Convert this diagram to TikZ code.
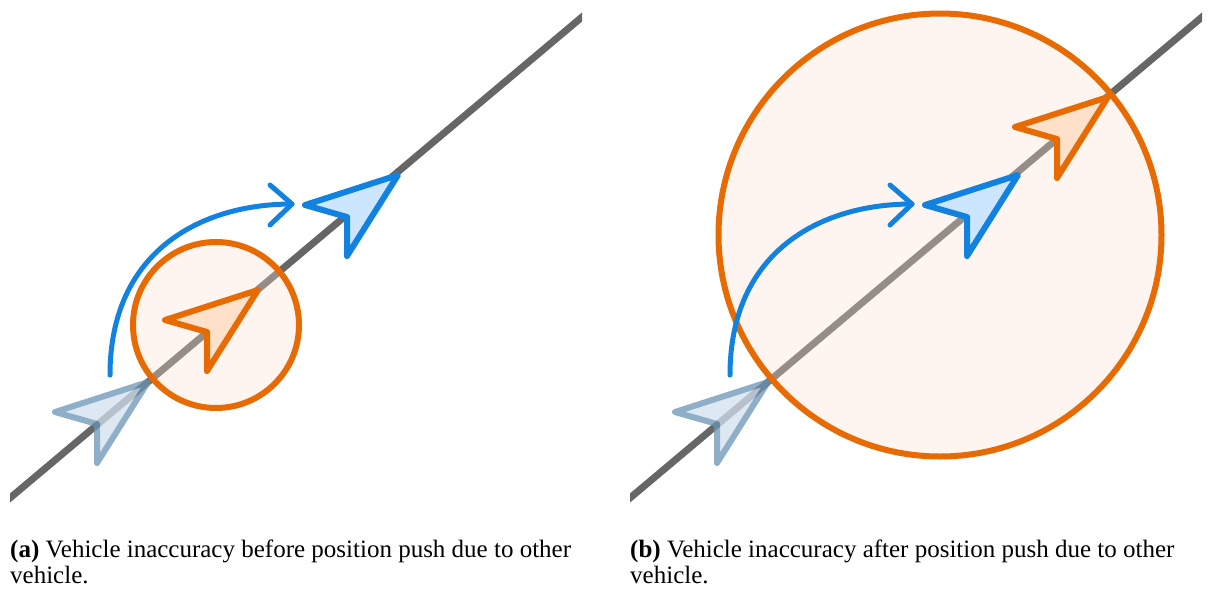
\documentclass[tikz,border=0pt]{standalone}
\usepackage{fontspec}
\setmainfont{Liberation Serif}
\definecolor{roadgray}{RGB}{102,102,102}
\definecolor{accorange}{RGB}{232,106,2}
\definecolor{accorangefill}{RGB}{255,225,201}
\definecolor{zonefill}{RGB}{252,221,208}
\definecolor{carblue}{RGB}{18,130,224}
\definecolor{carbluefill}{RGB}{204,230,255}
\definecolor{ghoststroke}{RGB}{106,147,182}
\definecolor{ghostfill}{RGB}{211,224,239}
\begin{document}
\begin{tikzpicture}[x=1pt,y=-1pt,
  road/.style={line width=7pt, draw=roadgray},
  zone/.style={line width=6pt, draw=accorange, fill=zonefill, fill opacity=0.32},
  navshape/.pic={\path[pic actions] (0,0) -- (-93,30) -- (-51,42) -- (-51,81) -- cycle;},
  navorange/.style={line width=6pt, line join=round, draw=accorange, fill=accorangefill},
  navblue/.style={line width=6pt, line join=round, draw=carblue, fill=carbluefill},
  navghost/.style={line width=6pt, line join=round, draw=ghoststroke, fill=ghostfill},
  push/.style={line width=5pt, draw=carblue, line cap=round, line join=round},
  caption/.style={anchor=north west, inner sep=0pt, align=left,
    font=\fontsize{25}{25.5}\selectfont}
]
\useasboundingbox (0,0) rectangle (1216,590);

% ---------- (a) before the push ----------
\begin{scope}
  \clip (10,0) rectangle (582,590);
  \draw[road] (0,506.4) -- (600,1.9);
\end{scope}
\coordinate (ghostA) at (148,382);
\coordinate (estA) at (258,290);
\coordinate (carA) at (398,175);
\coordinate (zoneA) at (216,325);
\begin{scope}[transparency group, opacity=0.75]
  \pic[navghost] at (ghostA) {navshape};
\end{scope}
\draw[zone] (zoneA) circle[radius=83];
\coordinate (pushA0) at (110,375);
\coordinate (pushA1) at (292,204);
\draw[push] (pushA0) .. controls (110,251) and (201,204) .. (pushA1);
\draw[push] (270,185) -- (pushA1) -- (270,225);
\pic[navblue] at (carA) {navshape};
\pic[navorange] at (estA) {navshape};
\node[caption] (capA) at (10,540)
  {\textbf{(a)} Vehicle inaccuracy before position push due to other\\vehicle.};

% ---------- (b) after the push ----------
\begin{scope}
  \clip (630,0) rectangle (1202,590);
  \draw[road] (620,506.4) -- (1220,1.9);
\end{scope}
\coordinate (ghostB) at (768,382);
\coordinate (estB) at (1108,97);
\coordinate (carB) at (1018,175);
\coordinate (zoneB) at (940,235);
\begin{scope}[transparency group, opacity=0.75]
  \pic[navghost] at (ghostB) {navshape};
\end{scope}
\draw[zone] (zoneB) circle[radius=221.5];
\coordinate (pushB0) at (730,375);
\coordinate (pushB1) at (912,204);
\draw[push] (pushB0) .. controls (730,251) and (821,204) .. (pushB1);
\draw[push] (890,185) -- (pushB1) -- (890,225);
\pic[navblue] at (carB) {navshape};
\pic[navorange] at (estB) {navshape};
\node[caption] (capB) at (630,540)
  {\textbf{(b)} Vehicle inaccuracy after position push due to other\\vehicle.};
\end{tikzpicture}
\end{document}
